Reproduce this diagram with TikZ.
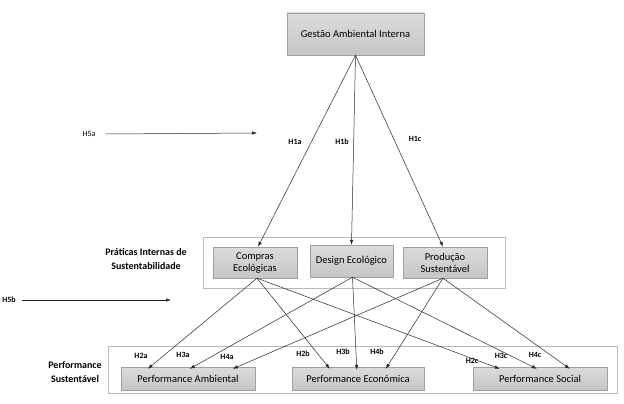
\documentclass[tikz,border=0pt]{standalone}
\usepackage{fontspec}
\setmainfont{Carlito}
\usetikzlibrary{arrows.meta}
\begin{document}
\begin{tikzpicture}[x=1pt,y=-1pt,
  box/.style={draw=gray!75,top color=gray!28,bottom color=gray!45,inner sep=0pt,align=center,font=\fontsize{10.5}{12}\selectfont},
  frame/.style={draw=gray!55,line width=0.6pt,fill=none,inner sep=0pt},
  arr/.style={-{Latex[length=5pt,width=3.5pt]},line width=0.5pt,black!85},
  hyp/.style={font=\fontsize{8}{9}\selectfont\bfseries,inner sep=0pt},
  side/.style={font=\fontsize{10}{14}\selectfont\bfseries,align=center,inner sep=0pt}]
\useasboundingbox (0,0) rectangle (624,404);
% containers
\node[frame,minimum width=302pt,minimum height=51pt] (cont1) at (354,262.5) {};
\node[frame,minimum width=509pt,minimum height=47pt] (cont2) at (362.5,369.5) {};
% boxes
\node[box,minimum width=137pt,minimum height=42pt] (top) at (355.5,34) {Gestão Ambiental Interna};
\node[box,minimum width=84pt,minimum height=31pt] (compras) at (255,262.5) {Compras\\Ecológicas};
\node[box,minimum width=83pt,minimum height=32pt] (design) at (351.5,261) {Design Ecológico};
\node[box,minimum width=84pt,minimum height=31pt] (producao) at (445,262.5) {Produção\\Sustentável};
\node[box,minimum width=134pt,minimum height=23pt] (pamb) at (188,378.5) {Performance Ambiental};
\node[box,minimum width=132pt,minimum height=23pt] (peco) at (358,378.5) {Performance Económica};
\node[box,minimum width=134pt,minimum height=23pt] (psoc) at (540,378.5) {Performance Social};
% side labels
\node[side] (lpr) at (146,259.5) {Práticas Internas de\\Sustentabilidade};
\node[side] (lps) at (75,372) {Performance\\Sustentável};
% H5
\node[font=\fontsize{8}{9}\selectfont,inner sep=0pt] (h5a) at (89,134) {H5a};
\coordinate (h5aend) at (257,133);
\draw[arr] ([xshift=10pt]h5a.east) -- (h5aend);
\node[hyp] (h5b) at (9,300) {H5b};
\coordinate (h5bend) at (171,300);
\draw[arr] ([xshift=6pt]h5b.east) -- (h5bend);
% H1 arrows
\draw[arr] (top.south) -- ([xshift=3pt]compras.north);
\draw[arr] (top.south) -- (design.north);
\draw[arr] (top.south) -- ([xshift=-2pt]producao.north);
\node[hyp] (h1a) at (295,142) {H1a};
\node[hyp] (h1b) at (342,142) {H1b};
\node[hyp] (h1c) at (415,139) {H1c};
% lower arrows
\draw[arr] ([xshift=2pt]compras.south) -- ([xshift=27pt,yshift=-2pt]pamb.north west);
\draw[arr] ([xshift=2pt]compras.south) -- ([xshift=38pt,yshift=-2pt]peco.north west);
\draw[arr] ([xshift=2pt]compras.south) -- ([xshift=27pt,yshift=-2pt]psoc.north west);
\draw[arr] ([xshift=1pt]design.south) -- ([xshift=69pt,yshift=-2pt]pamb.north west);
\draw[arr] ([xshift=1pt]design.south) -- ([xshift=65pt,yshift=-3pt]peco.north west);
\draw[arr] ([xshift=1pt]design.south) -- ([xshift=64pt,yshift=-2pt]psoc.north west);
\draw[arr] ([xshift=-2pt]producao.south) -- ([xshift=112pt,yshift=-2pt]pamb.north west);
\draw[arr] ([xshift=-2pt]producao.south) -- ([xshift=94pt,yshift=-2pt]peco.north west);
\draw[arr] ([xshift=-2pt]producao.south) -- ([xshift=97pt,yshift=-2pt]psoc.north west);
\node[hyp] (h2a) at (141,356) {H2a};
\node[hyp] (h3a) at (183,355) {H3a};
\node[hyp] (h4a) at (227,357) {H4a};
\node[hyp] (h2b) at (303,354) {H2b};
\node[hyp] (h3b) at (343,352) {H3b};
\node[hyp] (h4b) at (377,352) {H4b};
\node[hyp] (h2c) at (472,361) {H2c};
\node[hyp] (h3c) at (501,356) {H3c};
\node[hyp] (h4c) at (535,355) {H4c};
\end{tikzpicture}
\end{document}
